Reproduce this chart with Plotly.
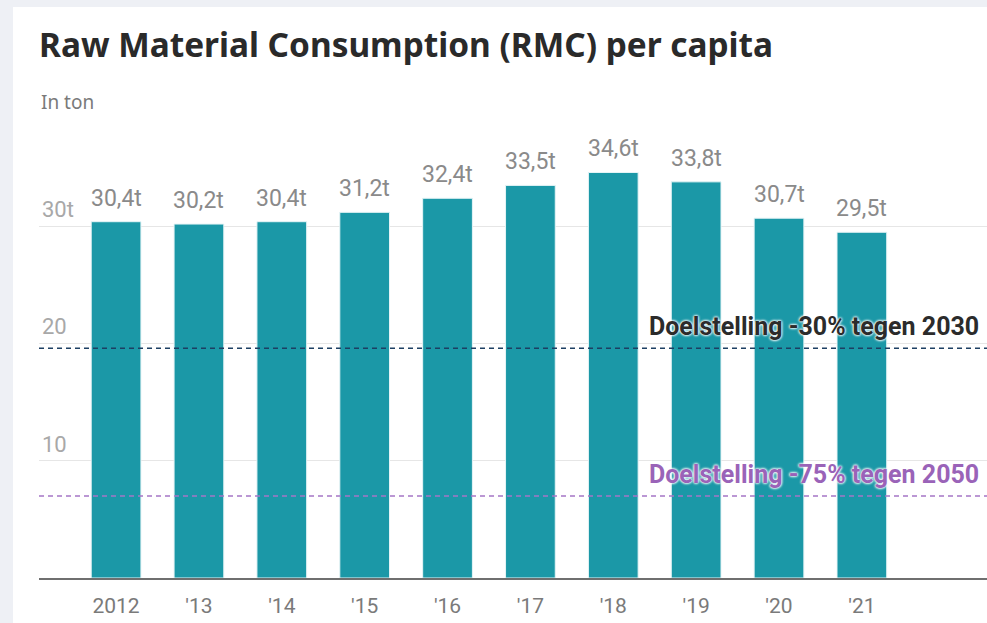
import plotly.graph_objects as go

years = ["2012", "'13", "'14", "'15", "'16", "'17", "'18", "'19", "'20", "'21"]
rmc = [30.4, 30.2, 30.4, 31.2, 32.4, 33.5, 34.6, 33.8, 30.7, 29.5]
target_values = [19.6, 7.0]
target_labels = ["Doelstelling -30% tegen 2030", "Doelstelling -75% tegen 2050"]
target_colors = ["#1d3f63", "#a575c6"]
target_text_colors = ["#2b2b2b", "#9a63b8"]
ytick_vals = [10, 20, 30]
ytick_text = ["10", "20", "30t"]

W, H = 987, 623
fig = go.Figure()
fig.add_trace(go.Bar(
    x=years, y=rmc, marker=dict(color="#1b98a7", line=dict(color="#e6f4f6", width=1)),
    width=0.6, hoverinfo="skip", showlegend=False,
))

for i, v in enumerate(rmc):
    fig.add_annotation(
        x=i, y=v, xref="x", yref="y", text=f"{v:.1f}".replace(".", ",") + "t",
        showarrow=False, yanchor="bottom", yshift=8,
        font=dict(family="Roboto", size=23, color="#8a8a8a"),
    )

for tv, tl, tc, ttc in zip(target_values, target_labels, target_colors, target_text_colors):
    fig.add_shape(type="line", xref="paper", yref="y", x0=0, x1=1, y0=tv, y1=tv,
                  line=dict(color=tc, width=1.6, dash="5px,4px"), layer="above")
    fig.add_annotation(
        x=1, y=tv, xref="paper", yref="y", text=f"<b>{tl}</b>", showarrow=False,
        xanchor="right", yanchor="bottom", xshift=-6, yshift=5,
        font=dict(family="Roboto", size=25, color=ttc,
                  shadow="0 0 3px white, 0 0 3px white, 0 0 2px white"),
    )

# white card
fig.add_shape(type="rect", xref="paper", yref="paper",
              x0=(13 - 39) / 948, x1=1.1, y0=-0.2, y1=(578 - 7) / 448,
              fillcolor="white", line=dict(width=0), layer="below")

fig.add_annotation(
    x=(39 - 39) / 948, y=(578 - 102) / 448, xref="paper", yref="paper",
    text="In ton", showarrow=False, xanchor="left", yanchor="middle",
    font=dict(family="Noto Sans", size=19, color="#7a7a7a"),
)

fig.update_layout(
    width=W, height=H,
    margin=dict(l=39, r=0, t=130, b=45),
    paper_bgcolor="#eef0f5", plot_bgcolor="white",
    title=dict(text="<b>Raw Material Consumption (RMC) per capita</b>",
               x=39 / W, xanchor="left", xref="container",
               y=1 - 45 / H, yanchor="middle", yref="container",
               font=dict(family="Noto Sans", size=33.4, color="#2a2a2a")),
    xaxis=dict(range=[-0.93, 10.51], showline=True, linecolor="#6f6f6f", linewidth=2,
               tickfont=dict(family="Roboto", size=21, color="#7a7a7a"),
               ticklabelstandoff=8,
               ticks="", showgrid=False, fixedrange=True),
    yaxis=dict(range=[0, 448 / 11.72], tickvals=ytick_vals, ticktext=ytick_text,
               ticklabelposition="inside", ticklabelshift=-17, ticklabelstandoff=0,
               tickfont=dict(family="Roboto", size=22, color="#a8a8a8"),
               showgrid=True, gridcolor="#e6e6e6", gridwidth=1, zeroline=False,
               ticks="", fixedrange=True),
    bargap=0.4,
)

fig.write_html("out.html", config={"displayModeBar": False},
               post_script="document.body.style.margin='0';document.body.style.overflow='hidden';")
